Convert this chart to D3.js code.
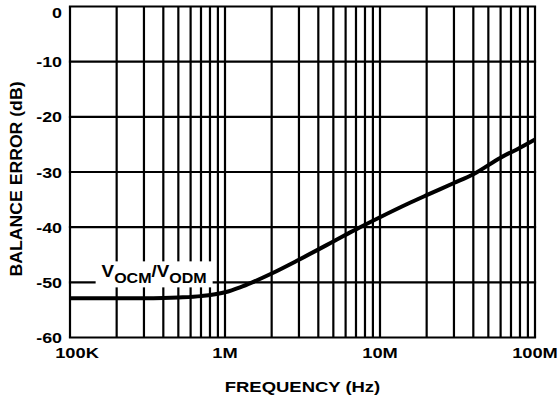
<!DOCTYPE html>
<html>
<head>
<meta charset="utf-8">
<script src="https://cdn.jsdelivr.net/npm/d3@7"></script>
<style>
  body { margin: 0; background: #fff; }
  text { font-family: "Liberation Sans", Arial, Helvetica, sans-serif; font-weight: bold; fill: #000; }
</style>
</head>
<body>
<div id="chart"></div>
<script>
// Data
const freqs = [1e5, 2e5, 3e5, 4e5, 5e5, 7e5, 1e6, 1.25e6, 1.5e6, 2e6, 3e6, 5e6, 7e6,
  1e7, 1.5e7, 2e7, 3e7, 4e7, 6e7, 8e7, 1e8]
const balanceError = [-52.9, -52.9, -52.9, -52.85, -52.75, -52.5, -51.8, -50.9, -50.0, -48.4,
  -45.9, -42.6, -40.4, -38.2, -35.8, -34.2, -32.0, -30.4, -27.4, -25.6, -24.1]

const xTicks = [1e5, 1e6, 1e7, 1e8]
const xTickLabels = ["100K", "1M", "10M", "100M"]
const yTicks = [0, -10, -20, -30, -40, -50, -60]

const width = 559, height = 402
const margin = {top: 6.5, right: 24, bottom: 64.5, left: 70}

const svg = d3.select("#chart")
  .append("svg")
    .attr("width", width)
    .attr("height", height)

const x = d3.scaleLog()
  .domain([1e5, 1e8])
  .range([margin.left, width - margin.right])

const y = d3.scaleLinear()
  .domain([-60, 0])
  .range([height - margin.bottom, margin.top])

// stretch text horizontally a bit, the reference font is wider than Arial
function stretch(sel, k) {
  sel.each(function() {
    const w = this.getComputedTextLength()
    d3.select(this)
      .attr("textLength", w * k)
      .attr("lengthAdjust", "spacingAndGlyphs")
  })
}

// Grid
const minor = []
for (let dec = 1e5; dec < 1e8; dec *= 10) {
  for (let m = 1; m < 10; m++) minor.push(dec * m)
}
minor.push(1e8)

svg.append("g")
  .selectAll("line")
  .data(minor)
  .enter()
  .append("line")
  .attr("x1", d => x(d))
  .attr("x2", d => x(d))
  .attr("y1", y(0))
  .attr("y2", y(-60))
  .attr("stroke", "#000")
  .attr("stroke-width", 2.2)

svg.append("g")
  .selectAll("line")
  .data(yTicks)
  .enter()
  .append("line")
  .attr("x1", x(1e5) - 1.1)
  .attr("x2", x(1e8) + 1.1)
  .attr("y1", d => y(d))
  .attr("y2", d => y(d))
  .attr("stroke", "#000")
  .attr("stroke-width", 2.2)

// Y tick labels
svg.append("g")
  .selectAll("text")
  .data(yTicks)
  .enter()
  .append("text")
  .attr("x", x(1e5) - 8)
  .attr("y", d => y(d))
  .attr("dy", d => d === 0 ? "0.75em" : "0.36em")
  .attr("text-anchor", "end")
  .attr("font-size", 15.5)
  .text(d => d)
  .call(stretch, 1.15)

// X tick labels
svg.append("g")
  .selectAll("text")
  .data(xTicks)
  .enter()
  .append("text")
  .attr("x", (d, i) => x(d) + (i === 0 ? 7 : 0))
  .attr("y", y(-60) + 20.5)
  .attr("text-anchor", "middle")
  .attr("font-size", 14.5)
  .text((d, i) => xTickLabels[i])
  .call(stretch, 1.26)

// Axis titles
svg.append("text")
  .attr("x", (x(1e5) + x(1e8)) / 2)
  .attr("y", 391.5)
  .attr("text-anchor", "middle")
  .attr("font-size", 15)
  .text("FREQUENCY (Hz)")
  .call(stretch, 1.23)

svg.append("text")
  .attr("transform", `translate(21.5, ${(y(0) + y(-60)) / 2 + 7}) rotate(-90)`)
  .attr("text-anchor", "middle")
  .attr("font-size", 17)
  .text("BALANCE ERROR (dB)")
  .attr("textLength", 195)
  .attr("lengthAdjust", "spacingAndGlyphs")

// Curve
const line = d3.line()
  .x(d => x(d[0]))
  .y(d => y(d[1]))
  .curve(d3.curveMonotoneX)

svg.append("path")
  .datum(freqs.map((f, i) => [f, balanceError[i]]))
  .attr("fill", "none")
  .attr("stroke", "#000")
  .attr("stroke-width", 4)
  .attr("d", line)

// Label with white background
const label = svg.append("g")
const labelText = label.append("text")
  .attr("x", x(1.6e5))
  .attr("y", y(-49.1))
  .attr("font-size", 17)
labelText.append("tspan").text("V")
labelText.append("tspan").attr("font-size", 14.5).attr("dy", 6).text("OCM")
labelText.append("tspan").attr("dy", -6).text("/V")
labelText.append("tspan").attr("font-size", 14.5).attr("dy", 6).text("ODM")
labelText
  .attr("textLength", 105)
  .attr("lengthAdjust", "spacingAndGlyphs")

const bb = labelText.node().getBBox()
label.insert("rect", "text")
  .attr("x", bb.x - 6)
  .attr("y", bb.y - 1)
  .attr("width", bb.width + 12)
  .attr("height", bb.height + 2)
  .attr("fill", "#fff")
</script>
</body>
</html>
